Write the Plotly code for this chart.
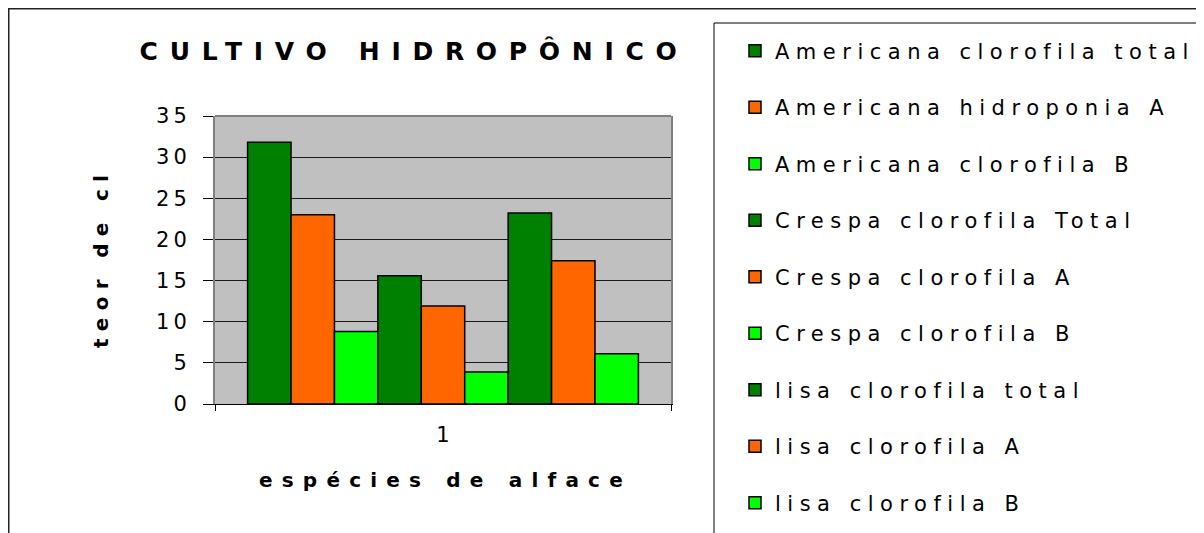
import plotly.graph_objects as go

# ---------------- data ----------------
categories = ["1"]
series_names = [
    "Americana clorofila total",
    "Americana hidroponia A",
    "Americana clorofila B",
    "Crespa clorofila Total",
    "Crespa clorofila A",
    "Crespa clorofila B",
    "lisa clorofila total",
    "lisa clorofila A",
    "lisa clorofila B",
]
series_values = [31.8, 23.0, 8.8, 15.6, 11.9, 3.9, 23.2, 17.4, 6.1]
series_colors = ["#008000", "#FF6600", "#00FF00",
                 "#008000", "#FF6600", "#00FF00",
                 "#008000", "#FF6600", "#00FF00"]
y_tick_values = [0, 5, 10, 15, 20, 25, 30, 35]
y_tick_labels = ["0", "5", "10", "15", "20", "25", "30", "35"]
title_text = "CULTIVO HIDROPÔNICO"
x_title_text = "espécies de alface"
y_title_text = "teor de cl"

# ---------------- layout helpers ----------------
# the page body adds an 8px offset, so the figure is drawn 8px smaller
OFF = 8
W, H = 1204 - OFF, 533 - OFF
# plot area in screen pixels
SPL, SPR, SPT, SPB = 215, 671, 116, 404
PL, PR, PT, PB = SPL - OFF, SPR - OFF, SPT - OFF, SPB - OFF
FONT = "DejaVu Sans"


def px_x(p):
    """screen x pixel -> paper x"""
    return (p - OFF - PL) / (PR - PL)


def px_y(p):
    """screen y pixel -> paper y"""
    return (PB - (p - OFF)) / (PB - PT)


def cx(p):
    return (p - OFF) / W


def cy(p):
    return 1 - (p - OFF) / H


def spaced(text, sp):
    return f'<span style="letter-spacing:{sp}px">{text}</span>'


fig = go.Figure()
for i, (name, val, col) in enumerate(zip(series_names, series_values, series_colors)):
    fig.add_trace(go.Bar(
        x=categories, y=[val], name=spaced(name, 6.5),
        legendgroup=name,
        legend="legend" if i < 5 else "legend2",
        marker=dict(color=col, line=dict(color="black", width=1.5)),
    ))

legend_common = dict(
    xref="container", yref="container",
    xanchor="left", yanchor="top",
    font=dict(family=FONT, size=21, color="black"),
    bgcolor="rgba(0,0,0,0)", borderwidth=0,
    traceorder="grouped", tracegroupgap=26.2,
)

fig.update_layout(
    width=W, height=H,
    margin=dict(l=PL, r=W - PR, t=PT, b=H - PB, pad=0),
    paper_bgcolor="white",
    plot_bgcolor="#C0C0C0",
    barmode="group", bargap=0.143, bargroupgap=0,
    font=dict(family=FONT, color="black"),
    title=dict(
        text="<b>" + spaced(title_text, 11.7) + "</b>",
        font=dict(family=FONT, size=25, color="black"),
        xref="container", yref="container",
        x=cx(414), y=cy(51), xanchor="center", yanchor="middle",
    ),
    showlegend=True,
    legend=dict(x=cx(735), y=cy(30.5), **legend_common),
    legend2=dict(x=cx(735), y=cy(313), **legend_common),
    xaxis=dict(
        type="category", showgrid=False, zeroline=False,
        showline=True, linecolor="black", linewidth=1,
        ticks="outside", tickson="boundaries", ticklen=6, tickcolor="black",
        tickfont=dict(family=FONT, size=21, color="black"),
        ticklabelstandoff=12,
    ),
    yaxis=dict(
        range=[0, 35], tickmode="array", tickvals=y_tick_values,
        ticktext=[spaced(t, 4) for t in y_tick_labels],
        showgrid=True, gridcolor="#1a1a1a", gridwidth=1, zeroline=False,
        showline=True, linecolor="#808080", linewidth=2, mirror=True,
        ticks="outside", ticklen=10, tickcolor="black",
        tickfont=dict(family=FONT, size=21, color="black"),
        ticklabelstandoff=8,
    ),
    shapes=[
        dict(type="line", xref="paper", yref="paper", x0=0, x1=1, y0=1, y1=1,
             line=dict(color="#808080", width=2), layer="above"),
        dict(type="rect", xref="paper", yref="paper",
             x0=px_x(714), x1=px_x(1202), y0=px_y(23), y1=px_y(560),
             line=dict(color="black", width=1), fillcolor="rgba(0,0,0,0)"),
        dict(type="rect", xref="paper", yref="paper",
             x0=px_x(8.5), x1=px_x(1220), y0=px_y(8.5), y1=px_y(560),
             line=dict(color="#222222", width=2), fillcolor="rgba(0,0,0,0)"),
    ],
    annotations=[
        dict(text="<b>" + spaced(x_title_text, 9.2) + "</b>", showarrow=False,
             xref="paper", yref="paper", x=px_x(445), y=px_y(480),
             xanchor="center", yanchor="middle",
             font=dict(family=FONT, size=20, color="black")),
        dict(text="<b>" + spaced(y_title_text, 7.3) + "</b>", showarrow=False,
             xref="paper", yref="paper", x=px_x(101), y=px_y(258),
             xanchor="center", yanchor="middle", textangle=-90,
             font=dict(family=FONT, size=20, color="black")),
    ],
)

fig.write_html("out.html")
